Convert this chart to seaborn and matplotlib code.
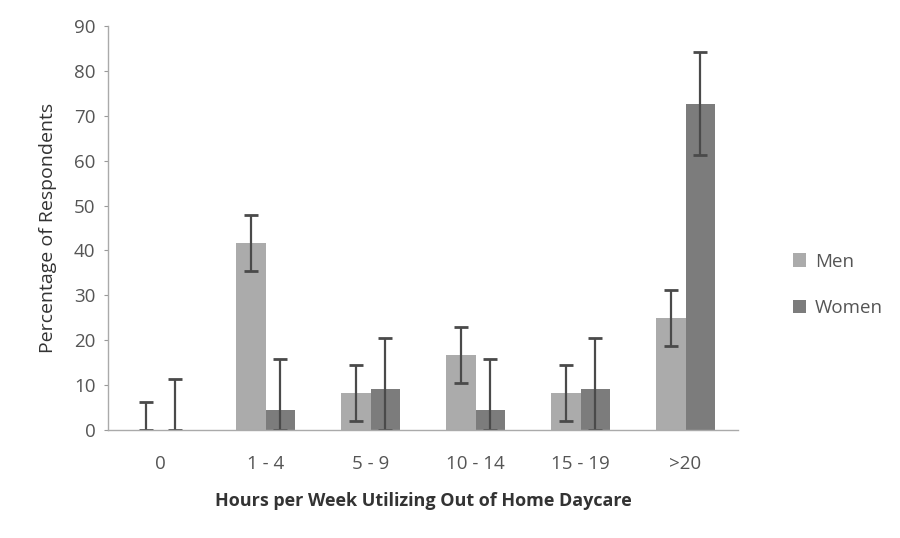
import pandas as pd
import seaborn as sns
import matplotlib.pyplot as plt

# Data
hours = ['0', '1 - 4', '5 - 9', '10 - 14', '15 - 19', '>20']
men = [0, 41.7, 8.3, 16.7, 8.3, 25.0]
women = [0, 4.5, 9.1, 4.5, 9.1, 72.7]
men_err = [6.2, 6.2, 6.2, 6.2, 6.2, 6.2]
women_err = [11.4, 11.4, 11.4, 11.4, 11.4, 11.4]

df = pd.DataFrame({
    'hours': hours * 2,
    'pct': men + women,
    'sex': ['Men'] * len(hours) + ['Women'] * len(hours),
})

sns.set_style('white')
plt.rcParams['font.family'] = ['Open Sans', 'DejaVu Sans']

fig = plt.figure(figsize=(9, 5.38), dpi=100)
ax = fig.add_axes([0.12, 0.2007, 0.70, 0.751])

sns.barplot(data=df, x='hours', y='pct', hue='sex', order=hours,
            palette={'Men': '#ababab', 'Women': '#7c7c7c'},
            width=0.57, saturation=1, errorbar=None, linewidth=0, ax=ax)

# Error bars on top of each bar
for cont, vals, errs in zip(ax.containers, [men, women], [men_err, women_err]):
    xs = [p.get_x() + p.get_width() / 2 for p in cont.patches]
    lower = [min(v, e) for v, e in zip(vals, errs)]
    ax.errorbar(xs, vals, yerr=[lower, errs], fmt='none', ecolor='#4a4a4a',
                elinewidth=1.6, capsize=5, capthick=2)

ax.set_xlim(-0.5, 5.5)
ax.set_ylim(0, 90)
ax.set_yticks(range(0, 91, 10))
ax.tick_params(axis='y', labelsize=13.5, labelcolor='#555555', length=3,
               color='#999999', left=True, pad=6)
ax.tick_params(axis='x', labelsize=13.5, labelcolor='#555555', length=0, pad=18)

for s in ['top', 'right']:
    ax.spines[s].set_visible(False)
for s in ['left', 'bottom']:
    ax.spines[s].set_color('#aaaaaa')
    ax.spines[s].set_linewidth(1)

ax.set_ylabel('Percentage of Respondents', fontsize=14, color='#333333', labelpad=12)
ax.set_xlabel('Hours per Week Utilizing Out of Home Daycare', fontsize=13,
              fontweight='bold', color='#333333', labelpad=14)

ax.legend(loc='center left', bbox_to_anchor=(1.06, 0.36), frameon=False,
          fontsize=13.5, handlelength=0.7, handleheight=0.7, labelspacing=1.5,
          handletextpad=0.5, labelcolor='#555555')

plt.savefig('out.png', dpi=100)
